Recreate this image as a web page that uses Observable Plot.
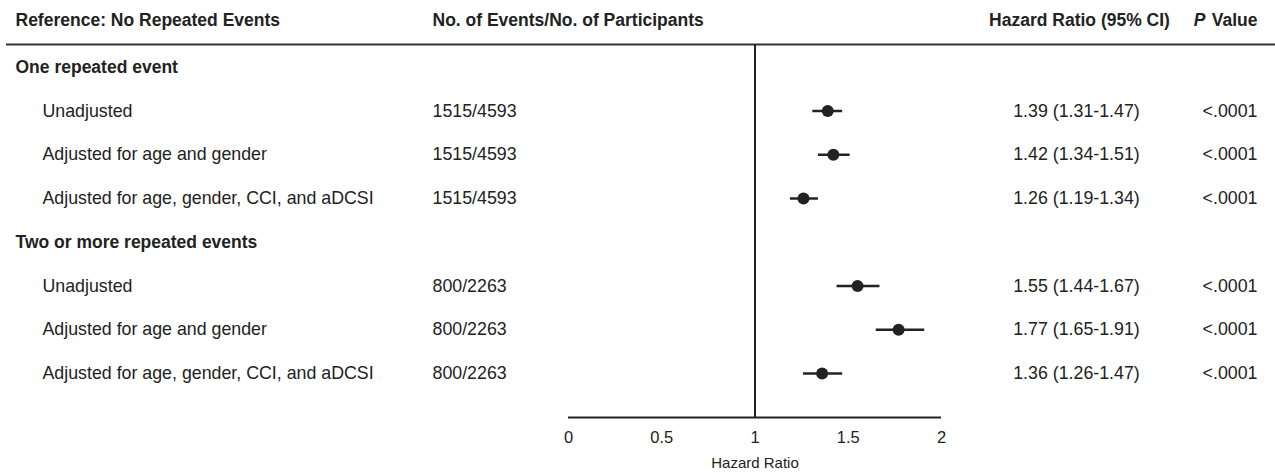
<!DOCTYPE html>
<html><head><meta charset="utf-8">
<script src="https://cdn.jsdelivr.net/npm/d3@7"></script>
<script src="https://cdn.jsdelivr.net/npm/@observablehq/plot@0.6"></script>
<style>
body{margin:0;background:#fff;}
#chart svg{font-family:"Liberation Sans",Arial,Helvetica,sans-serif;background:#fff;}
</style></head><body><div id="chart"></div>
<script>
// ---- data ----
const columnHeaders = ["Reference: No Repeated Events", "No. of Events/No. of Participants", "Hazard Ratio (95% CI)", "Value"];
const groupNames = ["One repeated event", "Two or more repeated events"];
const rowLabels = ["Unadjusted", "Adjusted for age and gender", "Adjusted for age, gender, CCI, and aDCSI"];
const eventCounts = ["1515/4593", "800/2263"];
const hazardRatios = [1.39, 1.42, 1.26, 1.55, 1.77, 1.36];
const ciLower = [1.31, 1.34, 1.19, 1.44, 1.65, 1.26];
const ciUpper = [1.47, 1.51, 1.34, 1.67, 1.91, 1.47];
const pValues = ["<.0001", "<.0001", "<.0001", "<.0001", "<.0001", "<.0001"];
const xTicks = [0, 0.5, 1, 1.5, 2];
const xLabel = "Hazard Ratio";

// ---- table built from the arrays ----
const groupRows = [];
const rows = [];
let r = 0, k = 0;
groupNames.forEach((g, gi) => {
  groupRows.push({row: r, name: g});
  r++;
  rowLabels.forEach((lab) => {
    rows.push({
      row: r, label: lab, events: eventCounts[gi],
      hr: hazardRatios[k], lo: ciLower[k], hi: ciUpper[k],
      ci: `${hazardRatios[k].toFixed(2)} (${ciLower[k].toFixed(2)}-${ciUpper[k].toFixed(2)})`,
      p: pValues[k]
    });
    r++; k++;
  });
});

// layout rows (in row units)
const headerRow = -1.08, headerRuleRow = -0.52, axisRow = 8.006, xLabelRow = 9.06;
const ink = "#222";
const hFont = 17.5, bFont = 17.8;

const chart = Plot.plot({
  width: 1275, height: 473,
  marginLeft: 0, marginRight: 0, marginTop: 0, marginBottom: 56,
  x: {domain: [0, 2], range: [568, 941]},
  y: {type: "linear", domain: [1, 7], range: [110.5, 373], axis: null},
  marks: [
    // header texts
    Plot.text([columnHeaders[0]], {frameAnchor: "left", y: () => headerRow, dx: 15, textAnchor: "start", fontWeight: "bold", fontSize: hFont, fill: ink}),
    Plot.text([columnHeaders[1]], {frameAnchor: "left", y: () => headerRow, dx: 432, textAnchor: "start", fontWeight: "bold", fontSize: hFont, fill: ink}),
    Plot.text([columnHeaders[2]], {frameAnchor: "left", y: () => headerRow, dx: 1079, textAnchor: "middle", fontWeight: "bold", fontSize: hFont, fill: ink}),
    Plot.text([columnHeaders[3]], {frameAnchor: "right", y: () => headerRow, dx: -18, textAnchor: "end", fontWeight: "bold", fontSize: hFont, fill: ink}),
    Plot.text(["P"], {frameAnchor: "right", y: () => headerRow, dx: -70, textAnchor: "end", fontWeight: "bold", fontStyle: "italic", fontSize: hFont, fill: ink}),
    Plot.ruleY([headerRuleRow], {insetLeft: 6, stroke: "#333", strokeWidth: 2}),
    // group titles
    Plot.text(groupRows, {frameAnchor: "left", y: "row", text: "name", dx: 15, textAnchor: "start", fontWeight: "bold", fontSize: hFont, fill: ink}),
    // row labels & columns
    Plot.text(rows, {frameAnchor: "left", y: "row", text: "label", dx: 42, textAnchor: "start", fontSize: bFont, fill: ink}),
    Plot.text(rows, {frameAnchor: "left", y: "row", text: "events", dx: 432, textAnchor: "start", fontSize: bFont, fill: ink}),
    Plot.text(rows, {frameAnchor: "left", y: "row", text: "ci", dx: 1076, textAnchor: "middle", fontSize: bFont, fill: ink}),
    Plot.text(rows, {frameAnchor: "right", y: "row", text: "p", dx: -18, textAnchor: "end", fontSize: bFont, fill: ink}),
    // reference line & axis line
    Plot.ruleX([1], {y1: headerRuleRow, y2: axisRow, stroke: ink, strokeWidth: 2}),
    Plot.ruleY([axisRow], {x1: 0, x2: 2, stroke: ink, strokeWidth: 2}),
    // CIs and points
    Plot.ruleY(rows, {y: "row", x1: "lo", x2: "hi", stroke: ink, strokeWidth: 2.5}),
    Plot.dot(rows, {x: "hr", y: "row", r: 6, fill: ink, stroke: "none"}),
    // axis
    Plot.axisX({ticks: xTicks, tickSize: 0, tickPadding: 14, fontSize: 16.5, label: null, tickFormat: d => String(d), fill: ink}),
    Plot.text([xLabel], {x: () => 1, y: () => xLabelRow, fontSize: 15, fill: ink})
  ]
});
document.getElementById("chart").appendChild(chart);
</script>
</body></html>
